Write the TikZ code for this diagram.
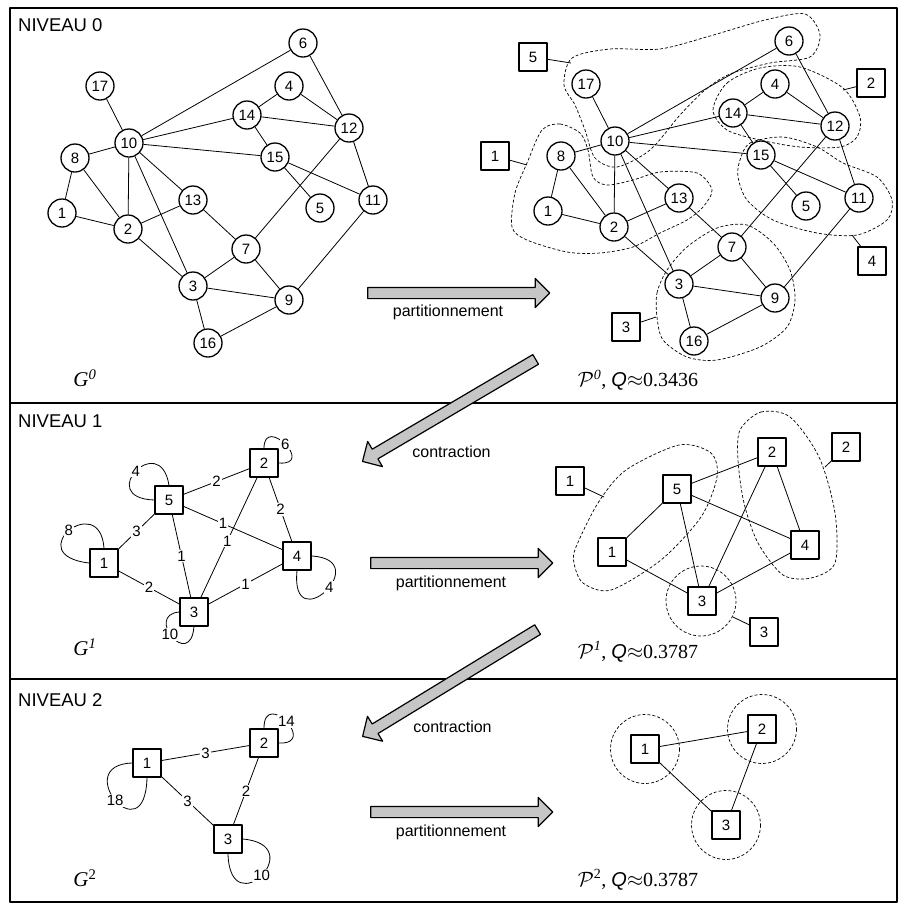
\documentclass[tikz,border=0pt]{standalone}
\usepackage{fontspec}
\setmainfont{Liberation Sans}
\newfontfamily\tnr{Liberation Serif}
\usepackage{tikz}
\usetikzlibrary{shapes.arrows}
\tikzset{frame/.style={line width=1.5pt}}
\tikzset{vtx/.style={draw, circle, fill=white, line width=1.3pt, minimum size=28pt, inner sep=0pt, font=\fontsize{15}{17}\selectfont}}
\tikzset{grp/.style={draw, rectangle, fill=white, line width=1.5pt, minimum size=28pt, inner sep=0pt, font=\fontsize{15}{17}\selectfont}}
\tikzset{wlbl/.style={fill=white, inner sep=1pt, font=\fontsize{15}{17}\selectfont}}
\tikzset{edge/.style={line width=0.8pt}}
\tikzset{clus/.style={dash pattern=on 3pt off 2pt, line width=0.7pt}}
\tikzset{fat/.style={draw, single arrow, fill=gray!45, line width=1.2pt, inner xsep=0pt, inner ysep=5pt, minimum width=0pt, single arrow head extend=9pt, single arrow tip angle=90}}
\tikzset{niv/.style={anchor=west, inner sep=0pt, font=\fontsize{18.5}{21}\selectfont}}
\tikzset{gname/.style={font=\tnr\itshape\fontsize{21}{24}\selectfont}}
\tikzset{pname/.style={font=\tnr\fontsize{20}{23}\selectfont}}
\tikzset{step lbl/.style={font=\fontsize{16}{19}\selectfont}}

\begin{document}
\begin{tikzpicture}[x=1pt, y=-1pt, line join=round]
    \useasboundingbox (0,0) rectangle (898,903);

    % frame and the three levels
    \draw[frame] (10,8) rectangle (897,902);
    \draw[frame] (10,403) -- (897,403);
    \draw[frame] (10,679) -- (897,679);
    \node[niv] (niv0) at (18,25) {NIVEAU 0};
    \node[niv] (niv1) at (18,421) {NIVEAU 1};
    \node[niv] (niv2) at (18,700) {NIVEAU 2};

    % level 0: communities of P0
    \draw[clus] plot[smooth cycle] coordinates {(572,58) (610,49) (660,49) (710,36) (765,20) (805,14) (820,35) (810,57) (770,63) (730,74) (705,90) (680,115) (650,150) (617,167) (595,158) (585,130) (575,105) (564,85)};
    \draw[clus] plot[smooth cycle] coordinates {(542,130) (560,124) (580,133) (588,150) (593,177) (607,185) (633,180) (660,172) (697,173) (712,190) (703,207) (687,220) (660,233) (633,247) (600,253) (567,252) (527,240) (512,227) (515,193) (527,163)};
    \draw[clus] plot[smooth cycle] coordinates {(713,110) (727,83) (760,68) (800,67) (843,88) (860,117) (857,137) (840,147) (800,147) (760,140) (727,130)};
    \draw[clus] plot[smooth cycle] coordinates {(740,160) (750,143) (783,137) (817,147) (843,163) (877,177) (892,200) (887,220) (857,235) (817,233) (773,220) (747,200) (738,177)};
    \draw[clus] plot[smooth cycle] coordinates {(657,317) (657,293) (667,270) (687,247) (717,228) (747,225) (773,243) (790,270) (795,300) (787,327) (760,347) (717,360) (687,357) (663,340)};

    % level 0: G0 and P0
    \foreach \n/\x/\y in {1/62/213, 2/128/229, 3/193/286, 4/289/86, 5/320/208, 6/303/43, 7/246/249, 8/75/158, 9/289/300, 10/129/143, 11/373/200, 12/349/128, 13/193/200, 14/247/115, 15/275/157, 16/208/343, 17/100/86}{
        \node[vtx] (g\n) at (\x,\y) {\n};
        \node[vtx] (p\n) at (\x+486,\y-2) {\n};
    }
    \foreach \a/\b in {17/10, 10/6, 10/14, 10/15, 10/8, 10/2, 10/3, 10/13, 8/1, 8/2, 1/2, 2/13, 2/3, 13/7, 7/3, 7/9, 7/12, 3/9, 3/16, 16/9, 9/11, 14/4, 14/12, 14/15, 4/12, 6/12, 12/11, 15/5, 15/11}{
        \draw[edge] (g\a) -- (g\b);
        \draw[edge] (p\a) -- (p\b);
    }

    \node[grp] (t5) at (533,57) {5};
    \node[grp] (t1) at (495,156) {1};
    \node[grp] (t2) at (871,83) {2};
    \node[grp] (t4) at (872,261) {4};
    \node[grp] (t3) at (626,327) {3};
    \coordinate (e5) at (571,63);
    \coordinate (e1) at (527,165);
    \coordinate (e2) at (843,90);
    \coordinate (e4) at (852,235);
    \coordinate (e3) at (656,317);
    \draw[edge] (t5) -- (e5);
    \draw[edge] (t1) -- (e1);
    \draw[edge] (t2) -- (e2);
    \draw[edge] (t4) -- (e4);
    \draw[edge] (t3) -- (e3);

    \node[gname] (G0) at (85,378) {G\textsuperscript{0}};
    \node[pname] (P0) at (638,380) {$\mathcal{P}$\textsuperscript{\itshape 0}, {\rmfamily\itshape Q}$\approx$0.3436};

    % arrows between the levels
    \node[fat, minimum height=182pt] (part0) at (456,293) {};
    \node[step lbl] at ([xshift=-8pt,yshift=-19pt]part0.center) (pl0) {partitionnement};
    \node[fat, minimum height=201pt, rotate=210.5] (cont1) at (451.5,409) {};
    \node[step lbl] at ([yshift=-43pt]cont1.center) (cl1) {contraction};
    \node[fat, minimum height=182pt] (part1) at (459,563) {};
    \node[step lbl] at ([xshift=-8pt,yshift=-20pt]part1.center) (pl1) {partitionnement};
    \node[fat, minimum height=205pt, rotate=211.4] (cont2) at (452.5,681.5) {};
    \node[step lbl] at ([yshift=-45pt]cont2.center) (cl2) {contraction};
    \node[fat, minimum height=182pt] (part2) at (459,812) {};
    \node[step lbl] at ([xshift=-8pt,yshift=-20pt]part2.center) (pl2) {partitionnement};

    % level 1: G1
    \node[grp] (a1) at (104,563) {1};
    \node[grp] (a2) at (264,463) {2};
    \node[grp] (a3) at (194,612) {3};
    \node[grp] (a4) at (297,556) {4};
    \node[grp] (a5) at (169,500) {5};
    \draw[edge] (a5) -- node[wlbl]{2} (a2);
    \draw[edge] (a2) -- node[wlbl]{2} (a4);
    \draw[edge] (a1) -- node[wlbl]{3} (a5);
    \draw[edge] (a5) -- node[wlbl, pos=0.4]{1} (a4);
    \draw[edge] (a2) -- node[wlbl, pos=0.53]{1} (a3);
    \draw[edge] (a5) -- node[wlbl]{1} (a3);
    \draw[edge] (a1) -- node[wlbl]{2} (a3);
    \draw[edge] (a3) -- node[wlbl]{1} (a4);
    \draw[edge] (a1.north) .. controls +(-4,-59) and +(-70,-8) .. node[wlbl]{8} (a1.west);
    \draw[edge] (a5.north) .. controls +(-9,-56) and +(-60,-2) .. node[wlbl]{4} (a5.west);
    \draw[edge] (a2.north) .. controls +(0,-34) and +(37,3) .. node[wlbl]{6} (a2.east);
    \draw[edge] (a4.east) .. controls +(64,4) and +(-7,70) .. node[wlbl, pos=0.45]{4} (a4.south);
    \draw[edge] (a3.west) .. controls +(-35,3) and +(-4,44) .. node[wlbl, pos=0.45]{10} (a3.south);
    \node[gname] (G1) at (85,647) {G\textsuperscript{1}};

    % level 1: P1
    \draw[clus] plot[smooth cycle] coordinates {(576,547) (598,503) (626,470) (679,445) (711,453) (717,477) (701,517) (661,560) (611,590) (583,583) (574,563)};
    \draw[clus] plot[smooth cycle] coordinates {(740,430) (761,412) (790,417) (819,457) (835,513) (835,563) (811,578) (783,575) (758,543) (744,503) (738,460)};
    \draw[clus] (701,601) circle (35);
    \node[grp] (q1) at (612,552) {1};
    \node[grp] (q2) at (772,452) {2};
    \node[grp] (q3) at (702,601) {3};
    \node[grp] (q4) at (805,545) {4};
    \node[grp] (q5) at (677,489) {5};
    \foreach \a/\b in {5/2, 2/4, 1/5, 5/4, 2/3, 5/3, 1/3, 3/4}{
        \draw[edge] (q\a) -- (q\b);
    }
    \node[grp] (u1) at (570,481) {1};
    \node[grp] (u2) at (846,447) {2};
    \node[grp] (u3) at (764,632) {3};
    \coordinate (f1) at (604,497);
    \coordinate (f2) at (825,467);
    \coordinate (f3) at (733,617);
    \draw[edge] (u1) -- (f1);
    \draw[edge] (u2) -- (f2);
    \draw[edge] (u3) -- (f3);
    \node[pname] (P1) at (638,652) {$\mathcal{P}$\textsuperscript{\itshape 1}, {\rmfamily\itshape Q}$\approx$0.3787};

    % level 2: G2
    \node[grp] (b1) at (147,763) {1};
    \node[grp] (b2) at (264,743) {2};
    \node[grp] (b3) at (228,839) {3};
    \draw[edge] (b1) -- node[wlbl]{3} (b2);
    \draw[edge] (b1) -- node[wlbl]{3} (b3);
    \draw[edge] (b2) -- node[wlbl]{2} (b3);
    \draw[edge] (b1.west) .. controls +(-63,2) and +(-2,78) .. node[wlbl]{18} (b1.south);
    \draw[edge] (b2.north) .. controls +(0,-40) and +(40,2) .. node[wlbl]{14} (b2.east);
    \draw[edge] (b3.east) .. controls +(68,6) and +(2,72) .. node[wlbl]{10} (b3.south);
    \node[gname] (G2) at (85,878) {G\textsuperscript{\upshape 2}};

    % level 2: P2
    \node[grp] (r1) at (645,749) {1};
    \node[grp] (r2) at (762,729) {2};
    \node[grp] (r3) at (726,825) {3};
    \draw[clus] (r1) circle (34.5);
    \draw[clus] (r2) circle (34.5);
    \draw[clus] (r3) circle (34.5);
    \draw[edge] (r1) -- (r2);
    \draw[edge] (r1) -- (r3);
    \draw[edge] (r2) -- (r3);
    \node[pname] (P2) at (638,880) {$\mathcal{P}$\textsuperscript{2}, {\rmfamily\itshape Q}$\approx$0.3787};
\end{tikzpicture}
\end{document}
